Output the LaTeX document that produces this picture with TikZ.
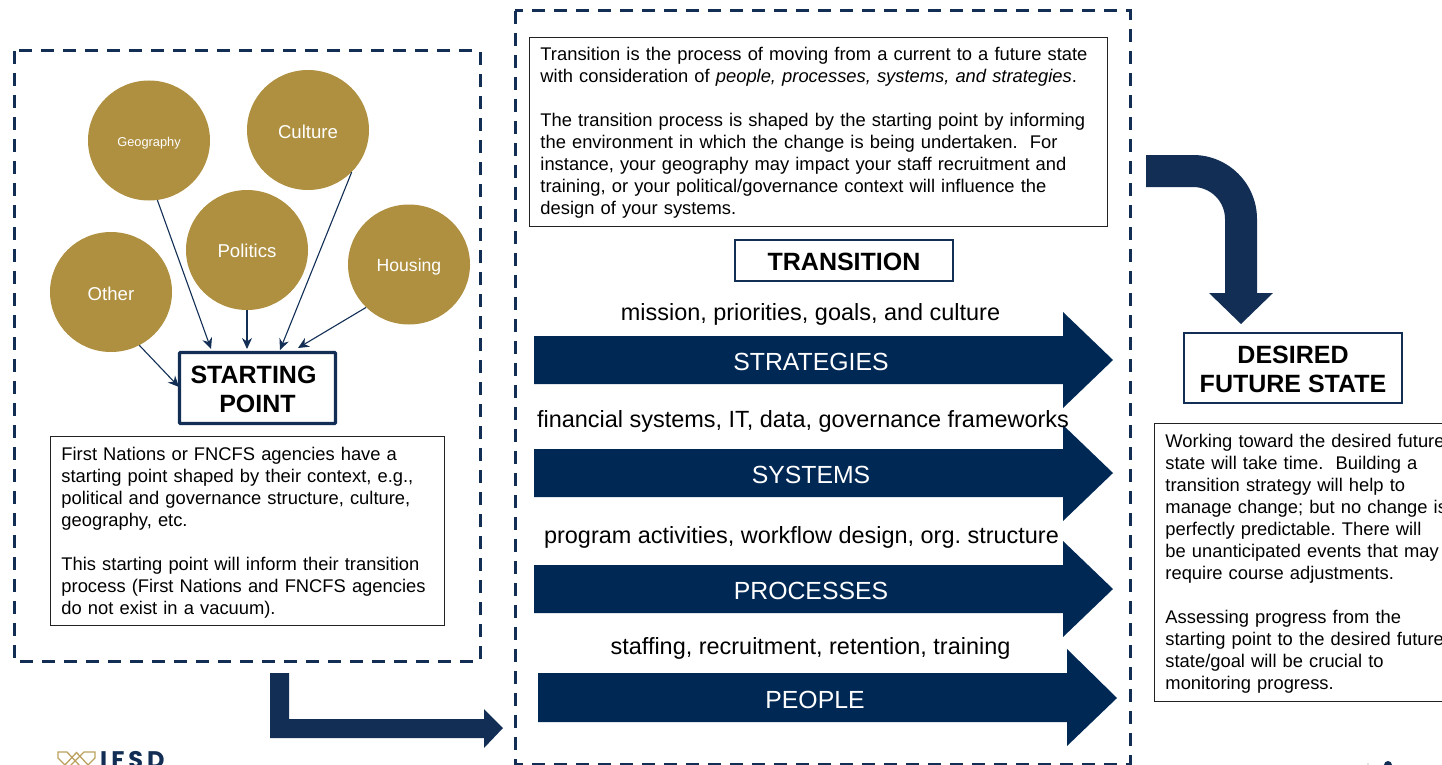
\documentclass[tikz,border=0pt]{standalone}
\usepackage{fontspec}
\setmainfont{Liberation Sans}
\newfontfamily\logofont{Poppins}
\usetikzlibrary{arrows.meta,shapes.geometric}
\definecolor{navy}{HTML}{122E55}
\definecolor{navyb}{HTML}{002855}
\definecolor{gold}{HTML}{AF9040}
\definecolor{edge}{HTML}{222222}
\newcommand{\topstrut}[1]{\rule{0pt}{#1pt}}
\newcommand{\settext}[2]{\raisebox{0pt}[#1pt][0pt]{#2}}
\tikzset{
  x=1pt,y=-1pt,
  dashbox/.style={draw=navy,line width=3pt,dash pattern=on 13pt off 9pt},
  circ/.style={ellipse,fill=gold,minimum width=122pt,minimum height=120pt,inner sep=0pt,text=white},
  txt/.style={draw=edge,line width=0.9pt,anchor=north west,align=left,inner xsep=11pt,inner ysep=0pt,
    font=\fontsize{18.35}{22}\selectfont},
  title/.style={draw=navy,line width=2.5pt,fill=white,align=center,font=\fontsize{25}{29}\selectfont\bfseries,inner sep=0pt},
  barlabel/.style={text=white,font=\fontsize{24.8}{28}\selectfont},
  toplabel/.style={font=\fontsize{23.45}{27}\selectfont},
  link/.style={draw=navy,line width=1.1pt,-{Stealth[length=11pt,width=10pt]}},
  bigarrow/.style={fill=navyb},
  bent/.style={fill=navy},
  logoline/.style={draw=gold!85!white,line width=1.3pt}
}
\begin{document}
\frenchspacing
\begin{tikzpicture}
\useasboundingbox (0,0) rectangle (1442,765);
% dashed frames
\draw[dashbox] (14,51) rectangle (480,661);
\draw[dashbox] (515,11) rectangle (1130,764);
% circles
\node[circ,font=\fontsize{12.8}{14}\selectfont] (geo) at (149,140.5) {\settext{12.7}{Geography}};
\node[circ,font=\fontsize{18.6}{22}\selectfont] (cul) at (308,130) {\settext{17.2}{Culture}};
\node[circ,font=\fontsize{18.6}{22}\selectfont] (pol) at (247,250) {\settext{15.2}{Politics}};
\node[circ,font=\fontsize{18.6}{22}\selectfont] (oth) at (111,292) {\settext{16.2}{Other}};
\node[circ,font=\fontsize{17.6}{22}\selectfont] (hou) at (409,264.5) {\settext{13}{Housing}};
% starting point
\node[title,line width=3.4pt,rounded corners=1pt,minimum width=156pt,minimum height=71pt] (sp) at (257.5,388) {\topstrut{20.3}STARTING\hspace*{8pt}\\POINT};
\coordinate (e1) at (211,349);
\coordinate (e2) at (247,349);
\coordinate (e3) at (280,350);
\coordinate (e4) at (298,348);
\coordinate (e5) at (179,387);
\draw[link] (geo.-82.5) -- (e1);
\draw[link] (pol.-90) -- (e2);
\draw[link] (cul.-44) -- (e3);
\draw[link] (hou.-135) -- (e4);
\draw[link] (oth.-62) -- (e5);
% left text
\node[txt,text width=372pt,minimum height=189pt] (t1) at (50,436) {\topstrut{17.3}First Nations or FNCFS agencies have a\\
starting point shaped by their context, e.g.,\\
political and governance structure, culture,\\
geography, etc.\\[22pt]
This starting point will inform their transition\\
process (First Nations and FNCFS agencies\\
do not exist in a vacuum).};
% middle text
\node[txt,text width=556pt,minimum height=189pt] (t2) at (529,37) {\topstrut{15.3}Transition is the process of moving from a current to a future state\\
with consideration of \textit{people, processes, systems, and strategies}.\\[22pt]
The transition process is shaped by the starting point by informing\\
the environment in which the change is being undertaken.\ \ For\\
instance, your geography may impact your staff recruitment and\\
training, or your political/governance context will influence the\\
design of your systems.};
\node[title,minimum width=218pt,minimum height=41pt] (tr) at (844,260.5) {\settext{19.8}{TRANSITION}};
% bar arrows
\fill[bigarrow] (534,336) -- (1063,336) -- (1063,312) -- (1113,360) -- (1063,408) -- (1063,384) -- (534,384) -- cycle;
\fill[bigarrow] (534,449) -- (1063,449) -- (1063,425) -- (1113,473) -- (1063,521) -- (1063,497) -- (534,497) -- cycle;
\fill[bigarrow] (534,565) -- (1063,565) -- (1063,541) -- (1113,589) -- (1063,637) -- (1063,613) -- (534,613) -- cycle;
\fill[bigarrow] (538,673) -- (1067,673) -- (1067,649) -- (1117,698) -- (1067,746) -- (1067,722) -- (538,722) -- cycle;
\node[barlabel] (a1) at (811,361.5) {STRATEGIES};
\node[barlabel] (a2) at (811,474.5) {SYSTEMS};
\node[barlabel] (a3) at (811,590.5) {PROCESSES};
\node[barlabel] (a4) at (815,699.5) {PEOPLE};
\node[toplabel] (l1) at (810.5,314) {mission, priorities, goals, and culture};
\node[toplabel] (l2) at (803,421) {financial systems, IT, data, governance frameworks};
\node[toplabel] (l3) at (801.5,537) {program activities, workflow design, org. structure};
\node[toplabel] (l4) at (810.5,648) {staffing, recruitment, retention, training};
% right
\node[title,minimum width=218pt,minimum height=70pt] (dfs) at (1293,368) {\topstrut{20.3}DESIRED\\FUTURE STATE};
\node[txt,text width=300pt,minimum height=278pt] (t3) at (1154,423) {\topstrut{15.3}Working toward the desired future\\
state will take time.\ \ Building a\\
transition strategy will help to\\
manage change; but no change is\\
perfectly predictable. There will\\
be unanticipated events that may\\
require course adjustments.\\[22pt]
Assessing progress from the\\
starting point to the desired future\\
state/goal will be crucial to\\
monitoring progress.};
% bent arrows
\fill[bent] (1146,155) -- (1193,155) arc[start angle=-90,end angle=0,radius=64] -- (1257,293) -- (1273,293) -- (1241,324) -- (1209,293) -- (1225,293) -- (1225,219) arc[start angle=0,end angle=-90,radius=32] -- (1146,187) -- cycle;
\fill[bent] (270,673) -- (289,673) -- (289,719) -- (484,719) -- (484,709) -- (503,728) -- (484,748) -- (484,738) -- (270,738) -- cycle;
% logo
\draw[logoline] (80,766) -- (67,752) -- (58,752) -- (58,758) -- (66,766);
\draw[logoline] (70,766) -- (84,752) -- (95,752) -- (95,758) -- (87,766);
\draw[logoline] (64,766) -- (76.5,752.5) -- (89,766);
\node[anchor=north west,inner sep=0pt,text=navy,font=\logofont\bfseries\fontsize{24}{26}\selectfont] (logo) at (100,751) {I\,F\,S\,D};
% cut-off mark at the lower right edge
\fill[navy] (1384,765) arc[start angle=180,end angle=360,radius=4];
\fill[gray] (1368,764) circle (0.7);
\end{tikzpicture}
\end{document}
